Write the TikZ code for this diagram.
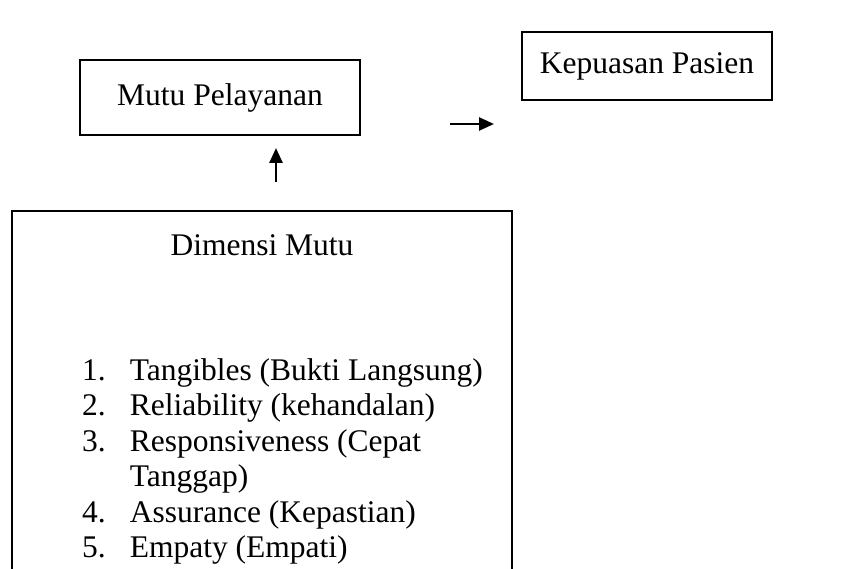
\documentclass[tikz,border=0pt]{standalone}
\usepackage{fontspec}
\setmainfont{Liberation Serif}
\usetikzlibrary{arrows.meta}

\begin{document}
\begin{tikzpicture}[x=1pt, y=-1pt,
    main/.style = {draw, rectangle, line width=1.7pt, inner sep=0pt, font=\fontsize{31.5}{35.5}\selectfont},
    teks/.style = {inner sep=0pt, font=\fontsize{31.5}{35.5}\selectfont},
    panah/.style = {line width=2.6pt, -{Triangle[width=13pt,length=15pt]}}]
                \useasboundingbox (0,0) rectangle (846,569);
                \clip (0,0) rectangle (846,569);
                \node[main, minimum width=280pt, minimum height=75pt] (mutu) at (220,97.5) {Mutu Pelayanan};
                \node[main, minimum width=250pt, minimum height=68pt] (kepuasan) at (647,66) {Kepuasan Pasien};
                \node[main, minimum width=500pt, minimum height=420pt, anchor=north] (dimensi) at (262,210) {};
                \node[teks] (judul) at (262,245) {Dimensi Mutu};
                \node[teks, anchor=north west] (daftar) at (82,355) {%
                    \begin{tabular}{@{}l@{\hspace{24pt}}l@{}}
                    1. & Tangibles (Bukti Langsung)\\
                    2. & Reliability (kehandalan)\\
                    3. & Responsiveness (Cepat\\
                       & Tanggap)\\
                    4. & Assurance (Kepastian)\\
                    5. & Empaty (Empati)
                    \end{tabular}};
                \coordinate (kanan1) at (450,124);
                \coordinate (kanan2) at (494,124);
                \coordinate (atas1) at (276,182);
                \coordinate (atas2) at (276,148);
                \draw[panah] (kanan1) -- (kanan2);
                \draw[panah] (atas1) -- (atas2);
            \end{tikzpicture}
\end{document}
